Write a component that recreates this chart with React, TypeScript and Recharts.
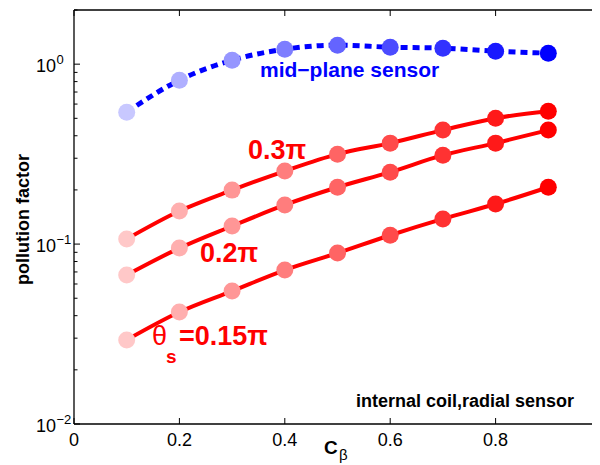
import React from "react";
import { LineChart, Line, XAxis, YAxis } from "recharts";

const cBeta = [0.1, 0.2, 0.3, 0.4, 0.5, 0.6, 0.7, 0.8, 0.9];
const midPlane = [0.541, 0.815, 1.052, 1.211, 1.275, 1.243, 1.227, 1.181, 1.151];
const theta03 = [0.1066, 0.1526, 0.1995, 0.2545, 0.316, 0.364, 0.43, 0.501, 0.548];
const theta02 = [0.0673, 0.095, 0.126, 0.165, 0.207, 0.251, 0.312, 0.364, 0.43];
const theta015 = [0.0293, 0.0419, 0.0548, 0.0717, 0.0891, 0.112, 0.138, 0.167, 0.207];

const xTicks = [0, 0.2, 0.4, 0.6, 0.8, 1];
const yTicks = [
  0.01, 0.02, 0.03, 0.04, 0.05, 0.06, 0.07, 0.08, 0.09,
  0.1, 0.2, 0.3, 0.4, 0.5, 0.6, 0.7, 0.8, 0.9,
  1, 2,
];
const yMajor: Record<string, string> = { "0.01": "\u22122", "0.1": "\u22121", "1": "0" };

const redShades = ["#ffc8c8", "#ffafaf", "#ff9696", "#ff7d7d", "#ff6464", "#ff4b4b", "#ff3232", "#ff1919", "#ff0000"];
const blueShades = ["#c8c8ff", "#afafff", "#9696ff", "#7d7dff", "#6464ff", "#4b4bff", "#3232ff", "#1919ff", "#0000ff"];

const data = cBeta.map((x, i) => ({
  x,
  mid: midPlane[i],
  t03: theta03[i],
  t02: theta02[i],
  t015: theta015[i],
}));

const FONT = '"Liberation Sans", Arial, Helvetica, sans-serif';

const makeDot = (shades: string[]) => (p: any) => (
  <circle key={`d-${p.dataKey}-${p.index}`} cx={p.cx} cy={p.cy} r={8.5} fill={shades[p.index]} stroke="none" />
);

const fmtX = (v: number) => (v === 0 ? "0" : v === 1 ? "1" : String(v));

const BottomTick = (p: any) => {
  const { x, y, payload } = p;
  return (
    <g>
      <line x1={x} y1={y} x2={x} y2={y - 6} stroke="#000" strokeWidth={1} />
      <text x={x} y={y + 22} textAnchor="middle" fontSize={18} fontFamily={FONT} fill="#000">
        {fmtX(payload.value)}
      </text>
    </g>
  );
};

const TopTick = (p: any) => {
  const { x, y } = p;
  return <line x1={x} y1={y} x2={x} y2={y + 6} stroke="#000" strokeWidth={1} />;
};

const LeftTick = (p: any) => {
  const { x, y, payload } = p;
  const exp = yMajor[String(payload.value)];
  const len = exp !== undefined ? 6 : 3.5;
  return (
    <g>
      <line x1={x} y1={y} x2={x + len} y2={y} stroke="#000" strokeWidth={1} />
      {exp !== undefined && (
        <g>
          <text x={x - 38} y={y + 8} fontSize={18} fontFamily={FONT} fill="#000">10</text>
          <text x={x - 17.5} y={y} fontSize={13} fontFamily={FONT} fill="#000">{exp}</text>
        </g>
      )}
    </g>
  );
};

const RightTick = (p: any) => {
  const { x, y, payload } = p;
  const major = yMajor[String(payload.value)] !== undefined;
  const len = major ? 6 : 3.5;
  return <line x1={x} y1={y} x2={x - len} y2={y} stroke="#000" strokeWidth={1} />;
};

export default function App() {
  return (
    <div style={{ position: "relative", width: 592, height: 457, overflow: "hidden", background: "#fff" }}>
      <LineChart width={620} height={457} data={data} margin={{ top: 1, right: 7, bottom: 0, left: 6 }}>
        <XAxis
          xAxisId="bottom"
          dataKey="x"
          type="number"
          domain={[0, 1]}
          ticks={xTicks}
          interval={0}
          height={41}
          tickSize={0}
          tickMargin={0}
          tickLine={false}
          tick={<BottomTick />}
          axisLine={{ stroke: "#000", strokeWidth: 1.3 }}
        />
        <XAxis
          xAxisId="top"
          orientation="top"
          dataKey="x"
          type="number"
          domain={[0, 1]}
          ticks={xTicks}
          interval={0}
          height={1}
          tickSize={0}
          tickMargin={0}
          tickLine={false}
          tick={<TopTick />}
          axisLine={{ stroke: "#000", strokeWidth: 1.3 }}
        />
        <YAxis
          yAxisId="left"
          type="number"
          scale="log"
          domain={[0.01, 2]}
          allowDataOverflow
          ticks={yTicks}
          interval={0}
          width={60}
          tickSize={0}
          tickMargin={0}
          tickLine={false}
          tick={<LeftTick />}
          axisLine={{ stroke: "#000", strokeWidth: 1.3 }}
        />
        <YAxis
          yAxisId="right"
          orientation="right"
          type="number"
          scale="log"
          domain={[0.01, 2]}
          allowDataOverflow
          ticks={yTicks}
          interval={0}
          width={20}
          tickSize={0}
          tickMargin={0}
          tickLine={false}
          tick={<RightTick />}
          axisLine={{ stroke: "#000", strokeWidth: 1.3 }}
        />
        <Line
          xAxisId="bottom"
          yAxisId="left"
          dataKey="t015"
          type="monotone"
          stroke="#ff0000"
          strokeWidth={4}
          dot={makeDot(redShades)}
          activeDot={false}
          isAnimationActive={false}
        />
        <Line
          xAxisId="bottom"
          yAxisId="left"
          dataKey="t02"
          type="monotone"
          stroke="#ff0000"
          strokeWidth={4}
          dot={makeDot(redShades)}
          activeDot={false}
          isAnimationActive={false}
        />
        <Line
          xAxisId="bottom"
          yAxisId="left"
          dataKey="t03"
          type="monotone"
          stroke="#ff0000"
          strokeWidth={4}
          dot={makeDot(redShades)}
          activeDot={false}
          isAnimationActive={false}
        />
        <Line
          xAxisId="bottom"
          yAxisId="left"
          dataKey="mid"
          type="monotone"
          stroke="#0000ff"
          strokeWidth={5}
          strokeDasharray="7 5"
          dot={makeDot(blueShades)}
          activeDot={false}
          isAnimationActive={false}
        />
      </LineChart>
      <svg
        width={600}
        height={465}
        style={{ position: "absolute", left: -8, top: -8, pointerEvents: "none" }}
        fontFamily={FONT}
      >
        <text x={29} y={219.5} transform="rotate(-90 29 219.5)" textAnchor="middle" fontSize={18} fontWeight="bold" fill="#000">
          pollution factor
        </text>
        <text x={324} y={454} fontSize={19} fontWeight="bold" fill="#000">C</text>
        <text x={339} y={460} fontSize={15} fill="#000">β</text>
        <text x={260} y={77} fontSize={21} fontWeight="bold" fill="#0000ff">mid{"\u2212"}plane sensor</text>
        <text x={248} y={159} fontSize={27} fontWeight="bold" fill="#ff0000">0.3π</text>
        <text x={200} y={262} fontSize={27} fontWeight="bold" fill="#ff0000">0.2π</text>
        <text x={152} y={345} fontSize={27} fill="#ff0000">θ</text>
        <text x={166} y={363} fontSize={19} fontWeight="bold" fill="#ff0000">s</text>
        <text x={179} y={345} fontSize={27} fontWeight="bold" fill="#ff0000">=0.15π</text>
        <text x={356} y={407} fontSize={18} fontWeight="bold" fill="#000">internal coil,radial sensor</text>
      </svg>
    </div>
  );
}
